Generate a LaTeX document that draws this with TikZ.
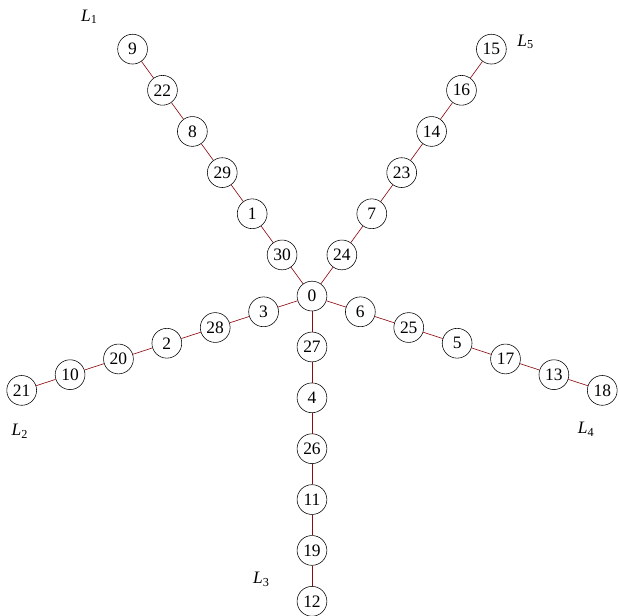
\documentclass[tikz,border=0pt]{standalone}
\usepackage{fontspec}
\setmainfont{Liberation Serif}
\usepackage{tikz}
\definecolor{edgered}{RGB}{140,10,15}
\tikzset{
  vertex/.style={circle, draw=black, fill=white, thin, minimum size=0.75cm,
    inner sep=0pt, font=\fontsize{12.5}{14}\selectfont},
  edge/.style={color=edgered, line width=0.45pt},
  legname/.style={font=\fontsize{12.5}{14}\selectfont}
}
\newcommand{\legl}[1]{\textit{L}\textsubscript{#1}}

\begin{document}
\begin{tikzpicture}
  \useasboundingbox (-7.85,-8.025) rectangle (7.725,7.45);
  % Root
  \node[vertex] (v0) at (0,0) {0};
  % Five legs, one every 72 degrees
  \foreach \ang/\lst in {126/{30,1,29,8,22,9}, 54/{24,7,23,14,16,15},
      198/{3,28,2,20,10,21}, -18/{6,25,5,17,13,18}, 270/{27,4,26,11,19,12}}{
    \foreach \v [count=\k, remember=\v as \prev (initially 0)] in \lst {
      \node[vertex] (v\v) at (\ang:{\k*1.28}) {\v};
      \draw[edge] (v\prev) -- (v\v);
    }
  }
  % Leg names
  \node[legname] (l1) at (-5.6,7.025) {\legl{1}};
  \node[legname] (l5) at (5.375,6.4) {\legl{5}};
  \node[legname] (l2) at (-7.35,-3.4) {\legl{2}};
  \node[legname] (l3) at (-1.275,-7.125) {\legl{3}};
  \node[legname] (l4) at (6.9,-3.35) {\legl{4}};
\end{tikzpicture}
\end{document}
